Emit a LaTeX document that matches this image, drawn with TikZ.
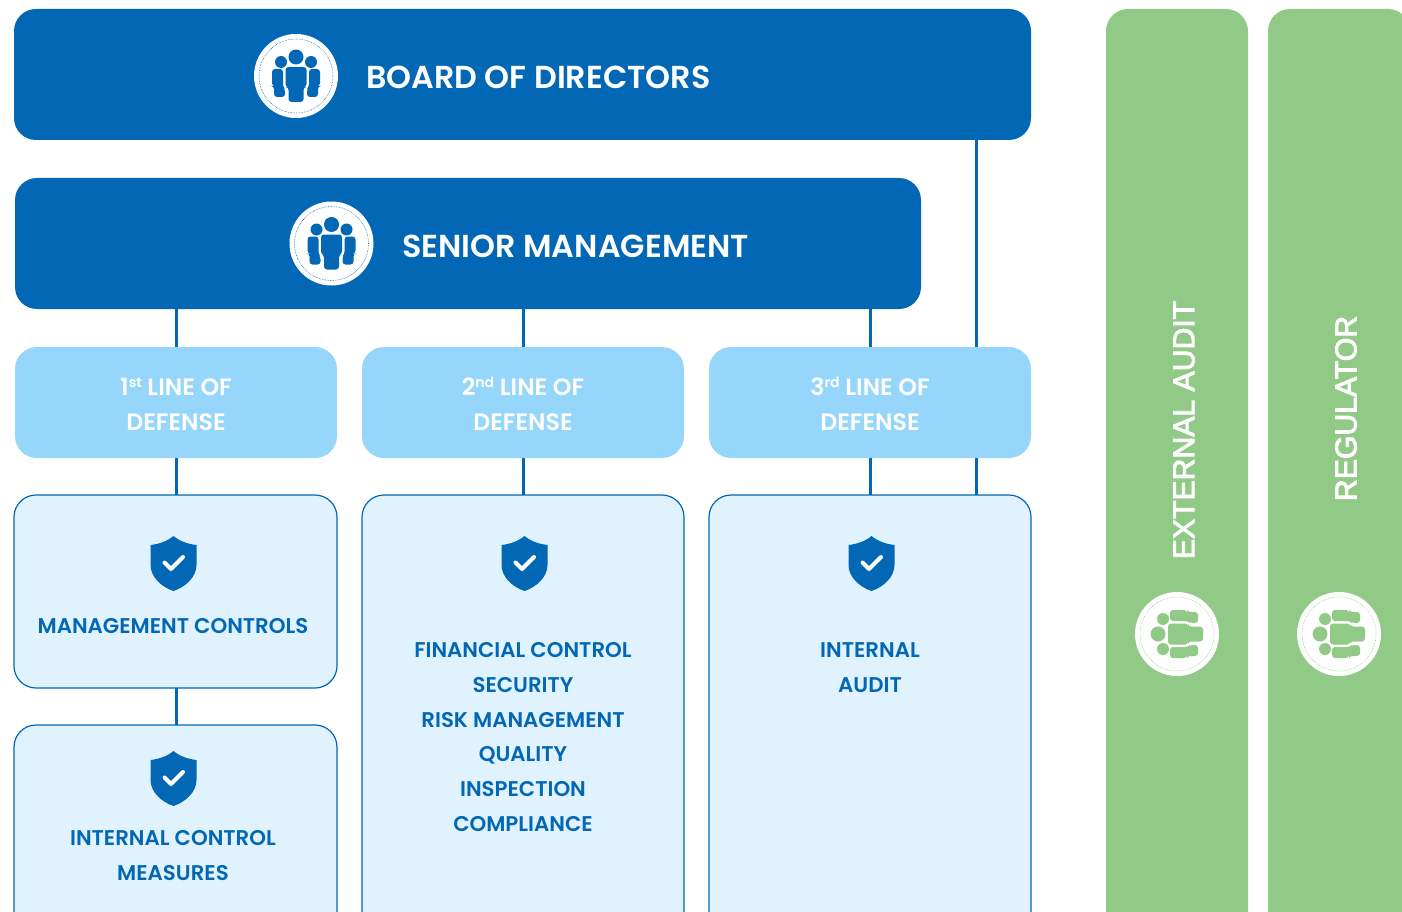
\documentclass[tikz,border=0pt]{standalone}
\usepackage{fontspec}
\setmainfont{Poppins SemiBold}
\newfontfamily\sidefont[FakeBold=3]{Liberation Sans}
\usetikzlibrary{positioning}
\definecolor{deepblue}{HTML}{0268B6}
\definecolor{skyblue}{HTML}{96D6FB}
\definecolor{paleblue}{HTML}{E0F2FD}
\definecolor{sidegreen}{HTML}{91C986}
\newcommand{\ordmark}[1]{\raisebox{7.5pt}{\fontsize{14}{14}\selectfont #1}}
\newcommand{\lineof}[1]{\strut #1 LINE OF\\DEFENSE\rule[-4pt]{0pt}{1pt}}
\tikzset{
  people/.pic={
    \fill (0,-19) circle (7.5);
    \fill (-15,-14) circle (6);
    \fill (15,-14) circle (6);
    \fill[rounded corners=3] (-10.5,-9) -- (10.5,-9) -- (10.5,11) -- (7.5,11) -- (7.5,26) -- (-7.5,26) -- (-7.5,11) -- (-10.5,11) -- cycle;
    \fill[rounded corners=3] (-13,-7) -- (-24,-7) -- (-24,10) -- (-22,10) -- (-22,21) -- (-11,21) -- (-11,13) -- (-13,11) -- cycle;
    \fill[rounded corners=3] (13,-7) -- (24,-7) -- (24,10) -- (22,10) -- (22,21) -- (11,21) -- (11,13) -- (13,11) -- cycle;
  },
  shield/.pic={
    \fill[deepblue] (0,-28) .. controls (6,-23) and (14,-20) .. (23,-19)
      -- (23,1) .. controls (23,13) and (12,23) .. (0,27)
      .. controls (-12,23) and (-23,13) .. (-23,1) -- (-23,-19)
      .. controls (-14,-20) and (-6,-23) .. (0,-28) -- cycle;
    \draw[white,line width=4,line cap=round,line join=round] (-9,-1.5) -- (-2.5,5) -- (9.5,-7);
  }
}

\begin{document}
\begin{tikzpicture}[x=1pt,y=-1pt]
  \tikzstyle{topbox}=[fill=deepblue,rounded corners=22,outer sep=0pt,inner sep=0pt]
  \tikzstyle{linebox}=[fill=skyblue,rounded corners=22,outer sep=0pt,inner sep=0pt,minimum width=322,minimum height=111,
    text=white,align=center,font=\fontsize{23.7}{35}\selectfont]
  \tikzstyle{ctrlbox}=[draw=deepblue,line width=1.2,fill=paleblue,rounded corners=22,outer sep=0pt,inner sep=0pt,minimum width=322]
  \tikzstyle{sidebox}=[fill=sidegreen,rounded corners=22,outer sep=0pt,inner sep=0pt,minimum width=142,minimum height=941]
  \tikzstyle{toptext}=[text=white,anchor=west,inner sep=0pt,font=\fontsize{31.75}{35}\selectfont]
  \tikzstyle{ctrltext}=[text=deepblue,align=center,inner sep=0pt,font=\fontsize{21.3}{34.7}\selectfont]
  \tikzstyle{sidetext}=[text=white,rotate=90,inner sep=0pt,font=\sidefont\fontsize{30.2}{35}\selectfont]
  \tikzstyle{badge}=[circle,fill=white,minimum size=84,inner sep=0pt,outer sep=0pt]
  \tikzstyle{ring}=[circle,draw,densely dotted,line width=0.6,minimum size=74,inner sep=0pt]
  \tikzstyle{wire}=[draw=deepblue,line width=3]

  \useasboundingbox (0,0) rectangle (1402,912);
  \clip (0,0) rectangle (1402,912);

  % top boxes
  \node [topbox,minimum width=1017,minimum height=131,anchor=north west] (board) at (14,9) {};
  \node [topbox,minimum width=906,minimum height=131,anchor=north west] (senior) at (15,178) {};

  % lines of defense
  \node [linebox,anchor=north west] (line1) at (15,347) {\lineof{1\ordmark{st}}};
  \node [linebox,right=25 of line1] (line2) {\lineof{2\ordmark{nd}}};
  \node [linebox,right=25 of line2] (line3) {\lineof{3\ordmark{rd}}};

  % control boxes
  \node [ctrlbox,minimum width=323,minimum height=193,anchor=north west] (mgmt) at (14,495) {};
  \node [ctrlbox,minimum width=323,minimum height=240,anchor=north west] (measures) at (14,725) {};
  \node [ctrlbox,minimum height=470,anchor=north west] (finance) at (362,495) {};
  \node [ctrlbox,minimum height=470,anchor=north west] (audit) at (709,495) {};

  % side boxes
  \node [sidebox,anchor=north west] (external) at (1106,9) {};
  \node [sidebox,right=20 of external] (regulator) {};

  % connectors
  \coordinate (board-drop) at (976,140);
  \coordinate (line3-in) at (976,347);
  \coordinate (line3-out) at (976,458);
  \coordinate (audit-in) at (976,495);
  \path [wire] (board-drop) -- (line3-in);
  \path [wire] (line3-out) -- (audit-in);
  \path [wire] (line1.north|-senior.south) -- (line1.north);
  \path [wire] (line2.north|-senior.south) -- (line2.north);
  \path [wire] (line3.north|-senior.south) -- (line3.north);
  \path [wire] (line1.south) -- (line1.south|-mgmt.north);
  \path [wire] (line2.south) -- (line2.south|-finance.north);
  \path [wire] (line3.south) -- (line3.south|-audit.north);
  \path [wire] (line1.south|-mgmt.south) -- (line1.south|-measures.north);

  % badges
  \node [badge] (board-badge) at (296,76) {};
  \node [ring,draw=deepblue] at (board-badge) {};
  \pic [deepblue] at (board-badge) {people};
  \node [badge] (senior-badge) at (331.5,243.5) {};
  \node [ring,draw=deepblue] at (senior-badge) {};
  \pic [deepblue] at (senior-badge) {people};
  \node [badge] (external-badge) at (1177,634) {};
  \node [ring,draw=sidegreen] at (external-badge) {};
  \pic [sidegreen,rotate=90] at (external-badge) {people};
  \node [badge] (regulator-badge) at (1339,634) {};
  \node [ring,draw=sidegreen] at (regulator-badge) {};
  \pic [sidegreen,rotate=90] at (regulator-badge) {people};

  % shields
  \pic at (173.5,564) {shield};
  \pic at (524.5,564) {shield};
  \pic at (871.5,564) {shield};
  \pic at (173.5,779) {shield};

  % labels
  \node [toptext] (board-text) at (366,77) {BOARD OF DIRECTORS};
  \node [toptext] (senior-text) at (402,246) {SENIOR MANAGEMENT};
  \node [ctrltext] (mgmt-text) at (173,626) {MANAGEMENT CONTROLS};
  \node [ctrltext] (measures-text) at (173,855.5) {INTERNAL CONTROL\\MEASURES};
  \node [ctrltext] (finance-text) at (523,737) {FINANCIAL CONTROL\\SECURITY\\RISK MANAGEMENT\\QUALITY\\INSPECTION\\COMPLIANCE};
  \node [ctrltext] (audit-text) at (870,667.5) {INTERNAL\\AUDIT};
  \node [sidetext] (external-text) at (1184,430) {EXTERNAL AUDIT};
  \node [sidetext] (regulator-text) at (1346,408.5) {REGULATOR};
\end{tikzpicture}
\end{document}
